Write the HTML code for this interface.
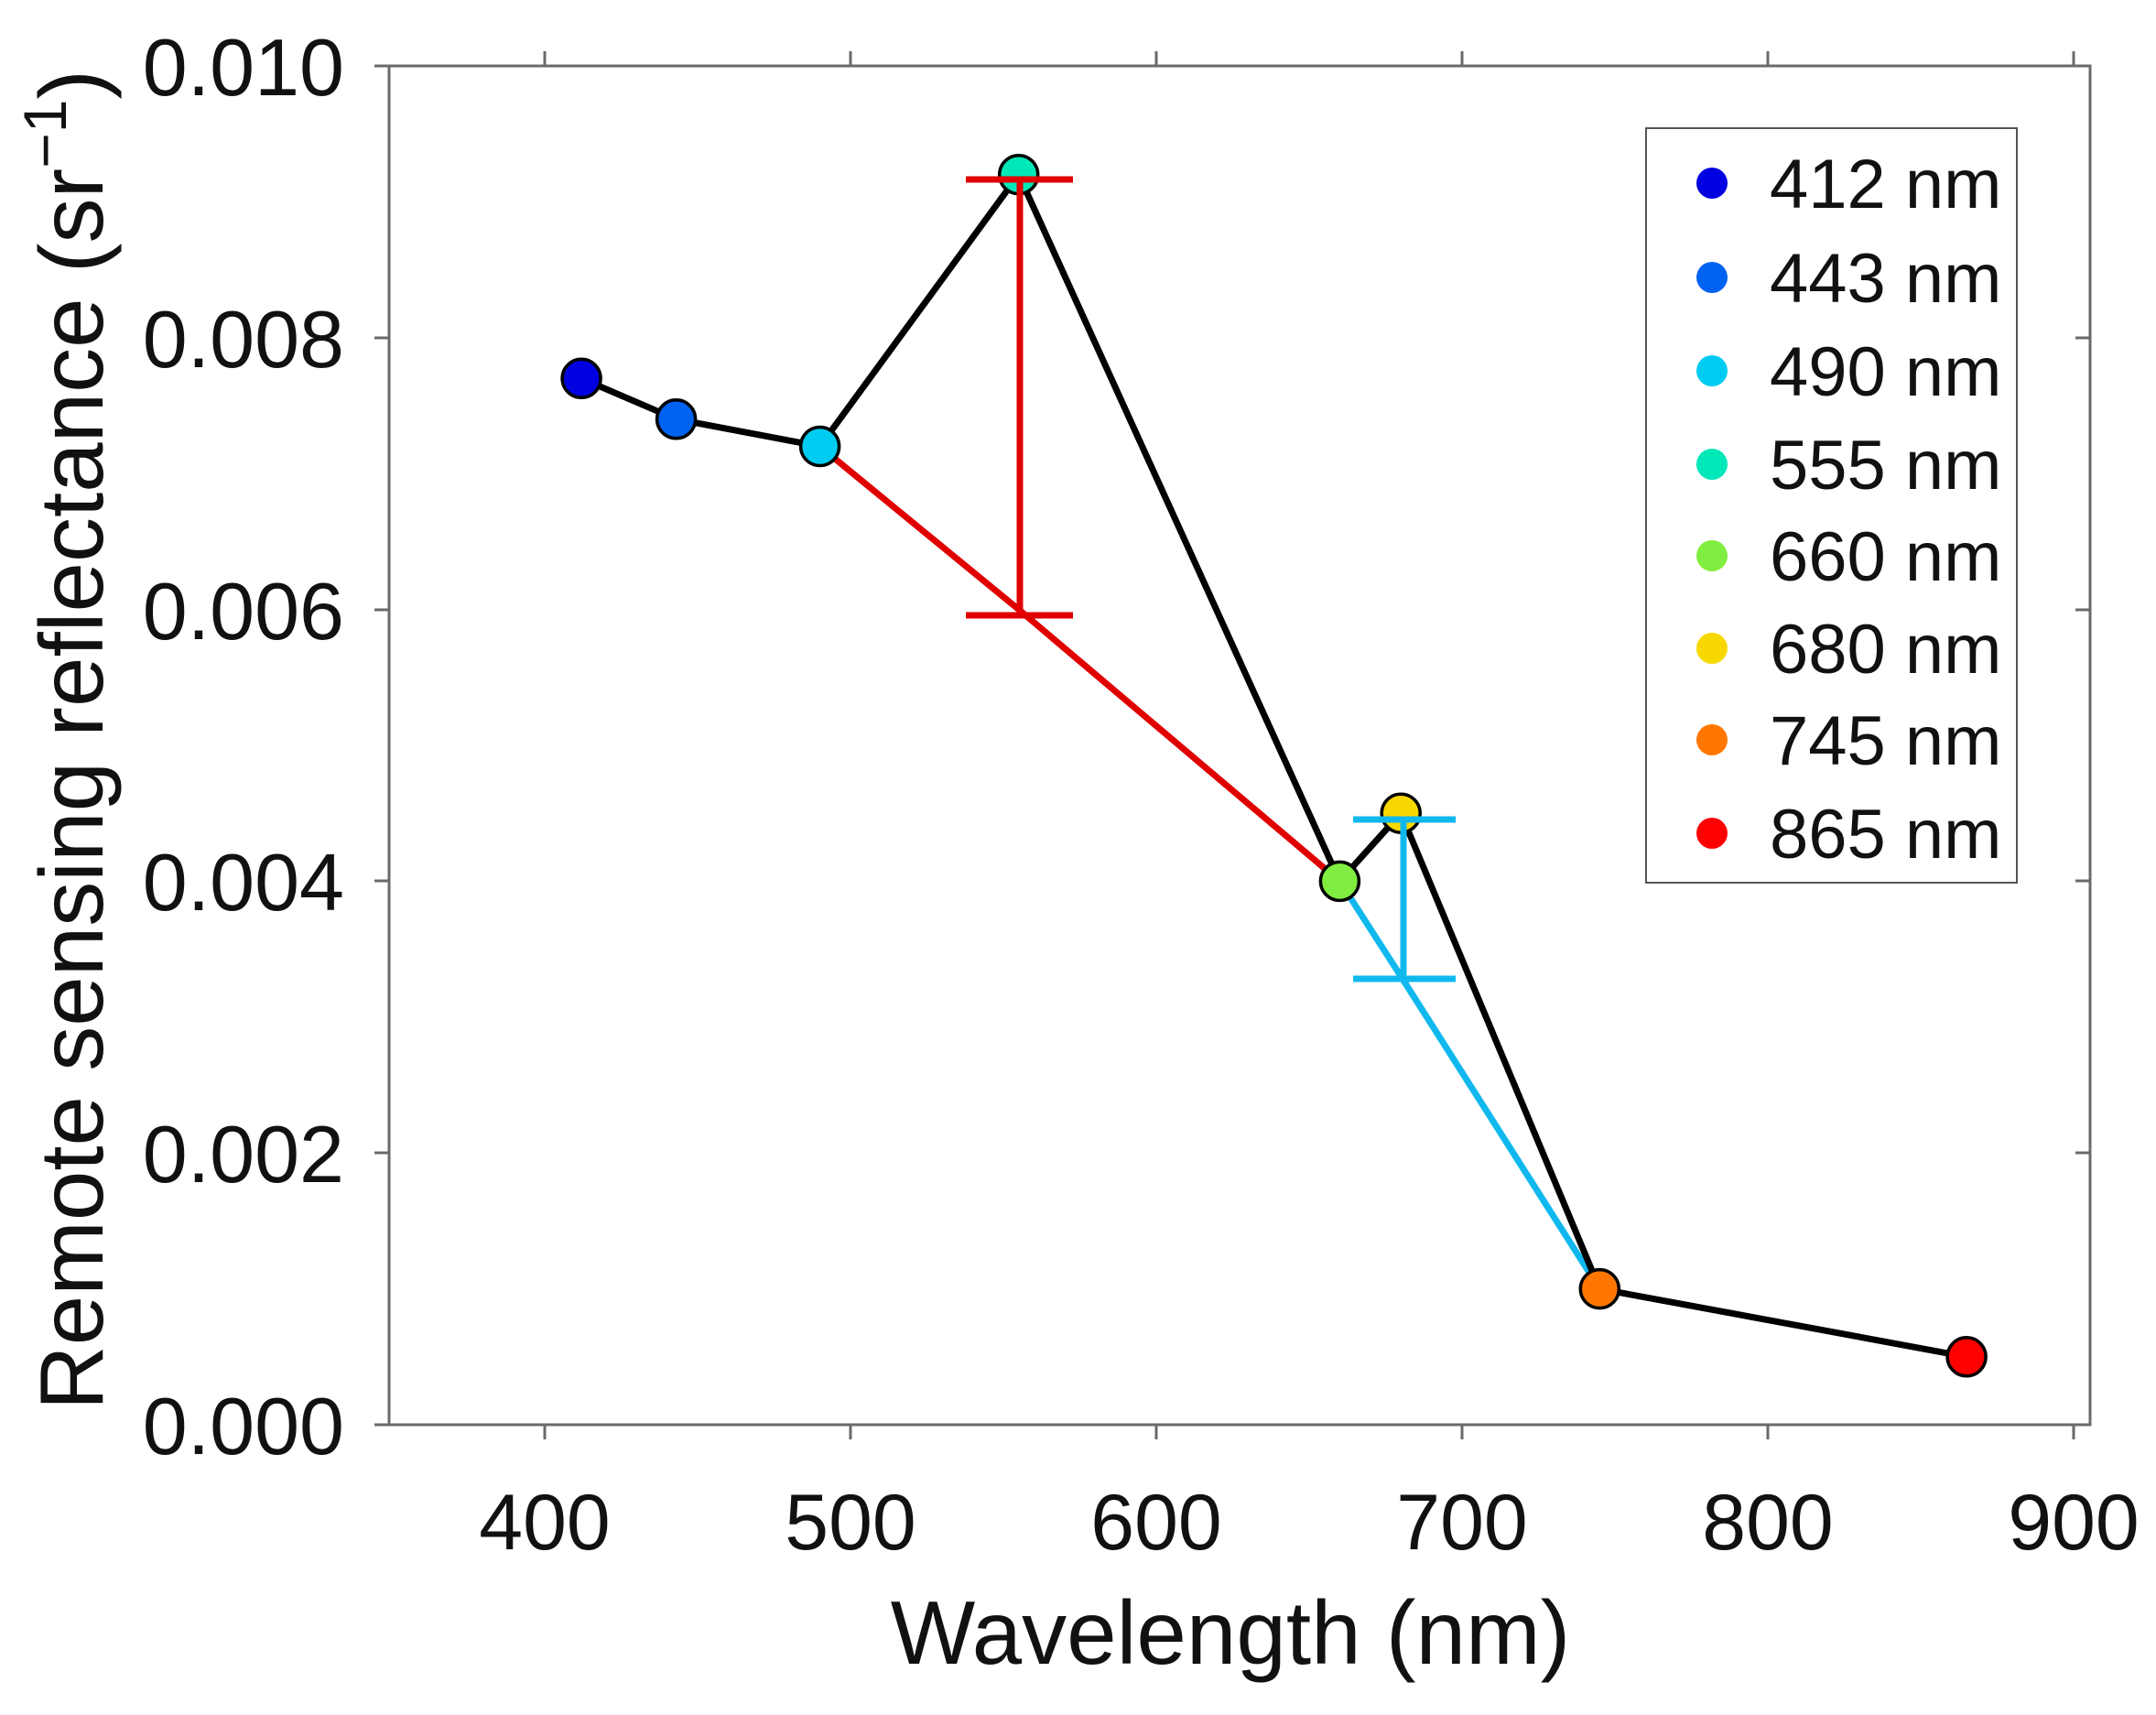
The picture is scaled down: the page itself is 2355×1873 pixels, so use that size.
<!DOCTYPE html>
<html><head><meta charset="utf-8"><style>html,body{margin:0;padding:0;background:#fff}</style></head>
<body>
<svg width="2355" height="1868" viewBox="0 0 2355 1868" xmlns="http://www.w3.org/2000/svg" font-family="Liberation Sans, Arial, sans-serif">
<rect width="2355" height="1868" fill="#fff"/>
<rect x="425" y="72" width="1858" height="1484" fill="none" stroke="#6a6a6a" stroke-width="3"/>
<g stroke="#6a6a6a" stroke-width="3">
<line x1="595" y1="1556" x2="595" y2="1572"/><line x1="929" y1="1556" x2="929" y2="1572"/><line x1="1263" y1="1556" x2="1263" y2="1572"/><line x1="1597" y1="1556" x2="1597" y2="1572"/><line x1="1931" y1="1556" x2="1931" y2="1572"/><line x1="2265" y1="1556" x2="2265" y2="1572"/>
<line x1="595" y1="72" x2="595" y2="56"/><line x1="929" y1="72" x2="929" y2="56"/><line x1="1263" y1="72" x2="1263" y2="56"/><line x1="1597" y1="72" x2="1597" y2="56"/><line x1="1931" y1="72" x2="1931" y2="56"/><line x1="2265" y1="72" x2="2265" y2="56"/>
<line x1="409" y1="1556" x2="425" y2="1556"/><line x1="409" y1="1259" x2="425" y2="1259"/><line x1="409" y1="962" x2="425" y2="962"/><line x1="409" y1="666" x2="425" y2="666"/><line x1="409" y1="369" x2="425" y2="369"/><line x1="409" y1="72" x2="425" y2="72"/>
<line x1="2267" y1="1556" x2="2283" y2="1556"/><line x1="2267" y1="1259" x2="2283" y2="1259"/><line x1="2267" y1="962" x2="2283" y2="962"/><line x1="2267" y1="666" x2="2283" y2="666"/><line x1="2267" y1="369" x2="2283" y2="369"/><line x1="2267" y1="72" x2="2283" y2="72"/>
</g>
<g font-size="88" fill="#111" text-anchor="end">
<text x="376" y="1588">0.000</text><text x="376" y="1291">0.002</text><text x="376" y="994">0.004</text><text x="376" y="698">0.006</text><text x="376" y="401">0.008</text><text x="376" y="104">0.010</text>
</g>
<g font-size="86" fill="#111" text-anchor="middle">
<text x="595" y="1692">400</text><text x="929" y="1692">500</text><text x="1263" y="1692">600</text><text x="1597" y="1692">700</text><text x="1931" y="1692">800</text><text x="2265" y="1692">900</text>
</g>
<text x="1344" y="1817" font-size="98" fill="#111" text-anchor="middle">Wavelength (nm)</text>
<text transform="translate(112,808) rotate(-90)" font-size="98" fill="#111" text-anchor="middle">Remote sensing reflectance (sr<tspan dy="-40" font-size="66">−1</tspan><tspan dy="40">)</tspan></text>
<polyline points="895.6,487.5 1112.7,665.6 1463.4,962.4" fill="none" stroke="#e00000" stroke-width="7"/>
<polyline points="1463.4,962.4 1530.2,1066.3 1747.3,1407.6" fill="none" stroke="#10b8ee" stroke-width="7"/>
<polyline points="635.1,413.3 738.6,457.8 895.6,487.5 1112.7,190.7 1463.4,962.4 1530.2,888.2 1747.3,1407.6 2148.1,1481.8" fill="none" stroke="#000" stroke-width="7"/>
<g stroke="#000" stroke-width="3.5">
<circle cx="635.1" cy="413.3" r="21" fill="#0000e0"/>
<circle cx="738.6" cy="457.8" r="21" fill="#0062f0"/>
<circle cx="895.6" cy="487.5" r="21" fill="#00ccf2"/>
<circle cx="1112.7" cy="190.7" r="21" fill="#00e8b8"/>
<circle cx="1463.4" cy="962.4" r="21" fill="#80ee40"/>
<circle cx="1530.2" cy="888.2" r="21" fill="#f8d800"/>
<circle cx="1747.3" cy="1407.6" r="21" fill="#ff7700"/>
<circle cx="2148.1" cy="1481.8" r="21" fill="#ff0000"/>
</g>
<g stroke="#e00000" stroke-width="7">
<line x1="1114" y1="196" x2="1114" y2="672"/>
<line x1="1055" y1="196" x2="1172" y2="196"/>
<line x1="1055" y1="672" x2="1172" y2="672"/>
</g>
<g stroke="#10b8ee" stroke-width="7">
<line x1="1533" y1="895" x2="1533" y2="1069"/>
<line x1="1478" y1="895" x2="1590" y2="895"/>
<line x1="1478" y1="1069" x2="1590" y2="1069"/>
</g>
<rect x="1798" y="140" width="405" height="824" fill="#fff" stroke="#555" stroke-width="2"/>
<g>
<circle cx="1870" cy="200" r="17" fill="#0000e0"/>
<circle cx="1870" cy="303" r="17" fill="#0062f0"/>
<circle cx="1870" cy="405" r="17" fill="#00ccf2"/>
<circle cx="1870" cy="507" r="17" fill="#00e8b8"/>
<circle cx="1870" cy="607" r="17" fill="#80ee40"/>
<circle cx="1870" cy="708" r="17" fill="#f8d800"/>
<circle cx="1870" cy="808" r="17" fill="#ff7700"/>
<circle cx="1870" cy="910" r="17" fill="#ff0000"/>
</g>
<g font-size="76" fill="#111">
<text x="1933" y="227">412 nm</text><text x="1933" y="330">443 nm</text><text x="1933" y="432">490 nm</text><text x="1933" y="534">555 nm</text><text x="1933" y="634">660 nm</text><text x="1933" y="735">680 nm</text><text x="1933" y="835">745 nm</text><text x="1933" y="937">865 nm</text>
</g>
</svg>
</body></html>
